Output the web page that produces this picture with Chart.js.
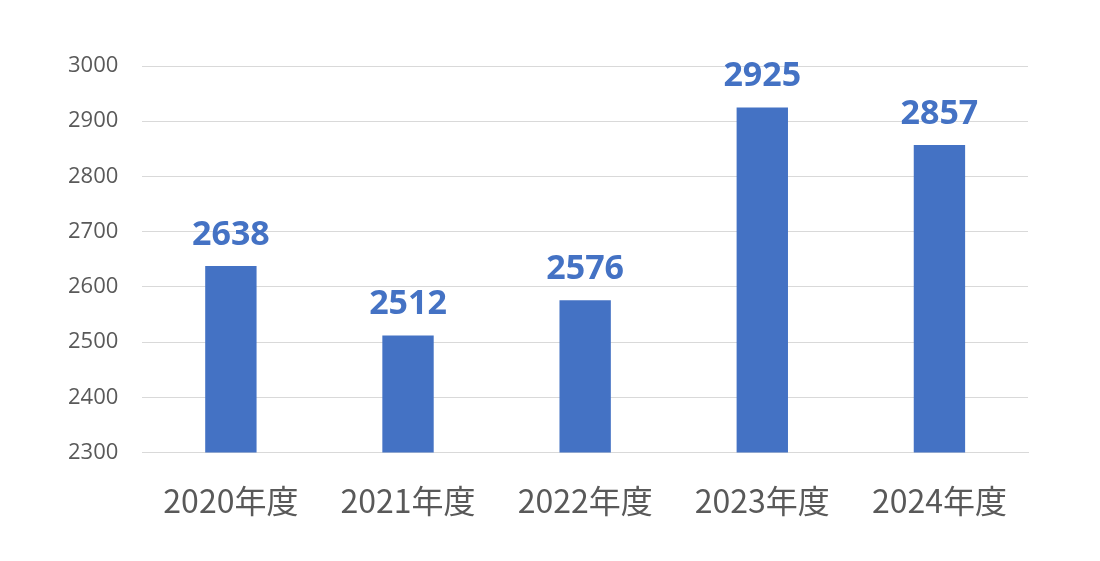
<!DOCTYPE html>
<html>
<head>
<meta charset="utf-8">
<script src="https://cdn.jsdelivr.net/npm/chart.js@4/dist/chart.umd.min.js"></script>
<style>
  html, body { margin: 0; padding: 0; background: #fff; }
  #wrap { width: 1100px; height: 561px; position: relative; }
</style>
</head>
<body>
<div id="wrap"><canvas id="myChart"></canvas></div>
<script>
// Chart data
const categories = ['2020年度', '2021年度', '2022年度', '2023年度', '2024年度'];
const values = [2638, 2512, 2576, 2925, 2857];
const yTicks = [2300, 2400, 2500, 2600, 2700, 2800, 2900, 3000];

const blue = '#4472C4';
const grey = '#595959';

// draws the value above each bar
const valueLabels = {
    id: 'valueLabels',
    afterDatasetsDraw(chart) {
        const ctx = chart.ctx;
        const meta = chart.getDatasetMeta(0);
        ctx.save();
        ctx.fillStyle = blue;
        ctx.font = 'bold 34px "Open Sans", "Noto Sans", sans-serif';
        ctx.textAlign = 'center';
        ctx.textBaseline = 'bottom';
        meta.data.forEach((bar, i) => {
            ctx.fillText(String(values[i]), bar.x, bar.y - 14);
        });
        ctx.restore();
    }
};

const ctx = document.getElementById('myChart').getContext('2d');
const myChart = new Chart(ctx, {
    type: 'bar',
    data: {
        labels: categories,
        datasets: [{
            data: values,
            backgroundColor: blue,
            barPercentage: 0.29,
            categoryPercentage: 1.0,
        }],
    },
    options: {
        responsive: true,
        maintainAspectRatio: false,
        animation: false,
        layout: { padding: { left: 44, right: 72, top: 66, bottom: 20 } },
        plugins: {
            legend: { display: false },
            tooltip: { enabled: false },
        },
        scales: {
            x: {
                grid: { display: false },
                border: { color: '#d9d9d9' },
                ticks: {
                    color: grey,
                    font: { size: 32, family: '"Noto Sans CJK JP", "Noto Sans", sans-serif' },
                    padding: 21,
                },
            },
            y: {
                min: yTicks[0],
                max: yTicks[yTicks.length - 1],
                afterBuildTicks(axis) {
                    axis.ticks = yTicks.map(v => ({ value: v }));
                },
                grid: { color: '#d9d9d9', drawTicks: false },
                border: { display: false },
                ticks: {
                    color: grey,
                    font: { size: 22, family: '"Open Sans", "Noto Sans", sans-serif' },
                    padding: 24,
                    callback: v => String(v),
                },
            },
        },
    },
    plugins: [valueLabels],
});
</script>
</body>
</html>
